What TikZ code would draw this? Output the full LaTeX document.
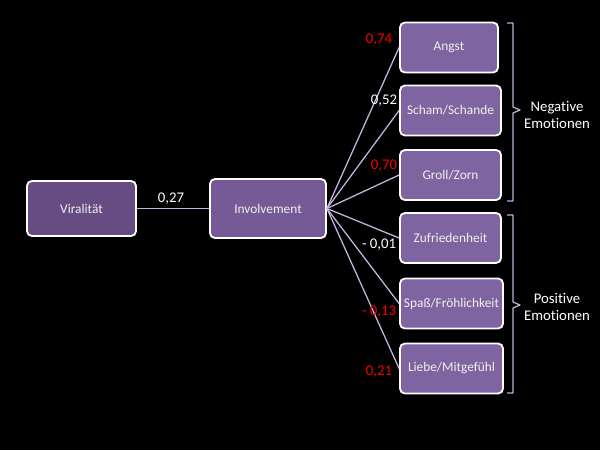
\documentclass[tikz,border=0pt]{standalone}
\usepackage{fontspec}
\setmainfont{Carlito}[Ligatures=NoCommon]
\usetikzlibrary{calc}
\definecolor{viralfill}{HTML}{664C82}
\definecolor{involfill}{HTML}{765A97}
\definecolor{emofill}{HTML}{7E64A1}
\definecolor{bracecol}{HTML}{BCAEDA}
\definecolor{linkcol}{HTML}{C4B6DE}
\definecolor{wtred}{HTML}{F80000}
\tikzset{box/.style={draw=white, line width=1.3pt, rounded corners=3.5pt, text=white!94!black,
    font=\fontsize{9.5}{11}\selectfont, minimum width=2.525cm, minimum height=1.25cm, inner sep=1pt},
  link/.style={draw=linkcol, line width=0.9pt},
  wt/.style={font=\fontsize{10.5}{12}\selectfont, text=white},
  wtneg/.style={wt, text=wtred},
  grp/.style={draw=bracecol, line width=0.9pt, line join=round}}

\begin{document}
\begin{tikzpicture}[x=0.025cm, y=-0.025cm]
  % background
  \fill[black] (0,0) rectangle (600,450);
  % left part
  \node[box, fill=viralfill, minimum width=2.725cm, minimum height=1.375cm] (viral) at (81.5,208.5) {Viralität};
  \node[box, fill=involfill, minimum width=2.9cm, minimum height=1.475cm] (invol) at (268,208.5) {Involvement};
  \draw[link] (viral.east) -- (invol.west);
  \node[wt] at (171,199) {0,27};
  % emotions
  \node[box, fill=emofill, minimum width=2.45cm] (angst) at (449,47.5) {Angst};
  \node[box, fill=emofill] (scham) at (450.5,110.5) {Scham/Schande};
  \node[box, fill=emofill] (groll) at (450.5,175) {Groll/Zorn};
  \node[box, fill=emofill] (zufr) at (450.5,238) {Zufriedenheit};
  \node[box, fill=emofill, minimum width=2.575cm] (spass) at (451.5,303.5) {Spaß/Fröhlichkeit};
  \node[box, fill=emofill, minimum width=2.575cm] (liebe) at (451.5,368.5) {Liebe/Mitgefühl};
  \foreach \e in {angst,scham,groll,zufr,spass,liebe}
    \draw[link] (invol.east) -- (\e.west);
  % weights
  \node[wtneg] at (379,40) {0,74};
  \node[wt] at (384,101) {0,52};
  \node[wtneg] at (384,166) {0,70};
  \node[wt] at (379,245) {- 0,01};
  \node[wtneg] at (379,312) {- 0,13};
  \node[wtneg] at (379,372) {0,21};
  % groups
  \draw[grp] (507,23) -- (513,23) -- (513,107) -- (520,110) -- (513,113) -- (513,201) -- (507,201);
  \draw[grp] (507,215) -- (513,215) -- (513,302) -- (520,305) -- (513,308) -- (513,393) -- (507,393);
  \node[wt, align=center] (neg) at (557,115) {Negative\\Emotionen};
  \node[wt, align=center] (pos) at (557,307) {Positive\\Emotionen};
\end{tikzpicture}
\end{document}
